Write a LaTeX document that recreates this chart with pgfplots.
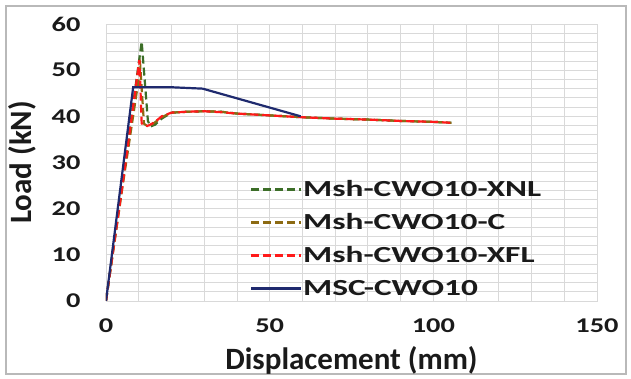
\documentclass[border=0pt]{standalone}
\usepackage{fontspec}
\setmainfont{Carlito}
\newfontfamily\tickfont[FakeStretch=1.35]{Carlito}
\newfontfamily\legfont[FakeStretch=1.45]{Carlito}
\usepackage{pgfplots}
\pgfplotsset{compat=1.18}
\definecolor{gridc}{HTML}{D9D9D9}
\definecolor{xnl}{HTML}{3C6E28}
\definecolor{cc}{HTML}{8C6A12}
\definecolor{xfl}{HTML}{FF1A1A}
\definecolor{msc}{HTML}{1F2A6E}
\definecolor{txt}{HTML}{1A1A1A}
\begin{document}
\begin{tikzpicture}[x=1pt,y=1pt]
\useasboundingbox (-106,-78) rectangle (525,301);
\draw[gray!55, line width=1.2pt] (-100,-73) rectangle (520,295);
\begin{axis}[
  scale only axis, width=491pt, height=277pt,
  at={(0,0)}, anchor=south west,
  xmin=0, xmax=150, ymin=0, ymax=60,
  xtick={0,50,100,150}, ytick={0,10,...,60},
  minor xtick={10,20,30,40,60,70,80,90,110,120,130,140},
  minor ytick={2,4,...,58},
  grid=both,
  major grid style={gridc, line width=0.8pt},
  minor grid style={gridc, line width=0.8pt},
  axis line style={gridc, line width=0.8pt},
  major tick length=0pt, minor tick length=0pt,
  /pgf/number format/assume math mode=true,
  ticklabel style={font=\tickfont\bfseries\fontsize{21}{21}\selectfont, text=txt},
  xticklabel style={yshift=-14pt},
  yticklabel style={xshift=-22pt},
  xlabel={Displacement (mm)},
  ylabel={Load (kN)},
  label style={font=\bfseries\fontsize{31}{31}\selectfont, text=txt},
  xlabel style={at={(axis description cs:0.5,0)}, anchor=center, yshift=-59pt},
  ylabel style={at={(axis description cs:0,0.5)}, anchor=center, rotate=0, yshift=84pt},
  legend style={at={(axis cs:43,28.2)}, anchor=north west, draw=none, fill=none,
    font=\legfont\bfseries\fontsize{23}{23}\selectfont, text=txt,
    row sep=0pt, nodes={inner sep=1pt, text height=22pt, text depth=9pt}},
  legend cell align=left,
  legend image code/.code={\draw[#1] (0pt,0pt) -- (50pt,0pt);},
  every axis plot/.append style={line width=2.2pt},
]
\addplot[xnl, dash pattern=on 8pt off 4pt] coordinates {
(0,0) (5,25.5) (10.9,56.2) (12.8,39) (13.6,37.8) (15,38.2) (17,39.5) (20,40.8) (25,41.0) (30,41.1) (35,41.0) (40,40.6) (50,40.2) (60,39.8) (70,39.5) (80,39.3) (90,39.0) (100,38.8) (105.5,38.6)};
\addlegendentry{Msh-CWO10-XNL}
\addplot[cc, dash pattern=on 8pt off 4pt] coordinates {
(0,0) (5,24.5) (10.5,50.5) (11.6,38.4) (12.6,37.9) (14,38.2) (17,39.8) (20,40.8) (25,41.0) (30,41.1) (35,41.0) (40,40.6) (50,40.2) (60,39.8) (70,39.5) (80,39.3) (90,39.0) (100,38.8) (105.5,38.6)};
\addlegendentry{Msh-CWO10-C}
\addplot[xfl, dash pattern=on 8pt off 4pt] coordinates {
(0,0) (5,25) (10.2,52.2) (10.9,38.5) (11.9,37.9) (13,38.0) (15,38.8) (17,40.0) (20,40.8) (25,41.0) (30,41.1) (35,40.9) (40,40.6) (50,40.2) (60,39.8) (70,39.5) (80,39.3) (90,39.0) (100,38.8) (105.5,38.6)};
\addlegendentry{Msh-CWO10-XFL}
\addplot[msc, solid] coordinates {
(0,0) (8.3,46.3) (20,46.3) (29.5,46.0) (59.5,40.0)};
\addlegendentry{MSC-CWO10}
\end{axis}
\end{tikzpicture}
\end{document}
